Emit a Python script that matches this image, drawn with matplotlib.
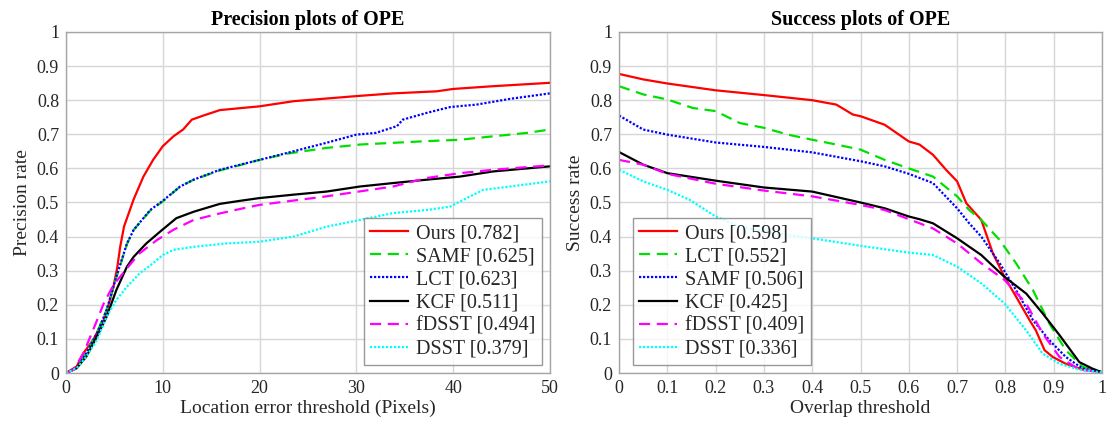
import matplotlib
matplotlib.use("Agg")
import matplotlib.pyplot as plt
import numpy as np

plt.rcParams['font.family'] = ['Liberation Serif', 'DejaVu Serif']

# ---------------- Precision plot data ----------------
prec_labels = ["Ours [0.782]", "SAMF [0.625]", "LCT [0.623]", "KCF [0.511]", "fDSST [0.494]", "DSST [0.379]"]

ours_px = [0, 1.1, 1.8, 2.8, 3.9, 4.5, 4.9, 5.3, 5.6, 6.0, 6.5, 7.0, 8.0, 9.0, 10.0, 11.1, 12.1, 13.0, 14.2, 15.9, 20, 23.5, 30, 33.8, 38.3, 40, 44.1, 50]
ours_py = [0, 0.019, 0.058, 0.097, 0.155, 0.21, 0.253, 0.31, 0.37, 0.43, 0.47, 0.51, 0.576, 0.625, 0.665, 0.694, 0.714, 0.743, 0.755, 0.771, 0.782, 0.797, 0.812, 0.82, 0.826, 0.833, 0.841, 0.851]

lct_px = [0, 1.1, 2.1, 3.2, 4.2, 5.2, 6.3, 7.0, 8.7, 10.0, 11.8, 13.2, 15.9, 20, 22.8, 26.9, 30, 32, 34.2, 34.8, 37.3, 39.7, 42.4, 45.9, 50]
lct_py = [0, 0.014, 0.058, 0.116, 0.185, 0.282, 0.38, 0.42, 0.478, 0.505, 0.547, 0.567, 0.596, 0.625, 0.645, 0.675, 0.699, 0.704, 0.724, 0.743, 0.763, 0.78, 0.787, 0.804, 0.82]

samf_px = [0, 1.1, 2.1, 3.2, 4.2, 5.2, 6.3, 7.0, 8.7, 10.0, 11.8, 13.2, 15.9, 20, 22.8, 26.9, 30.4, 33.8, 37.3, 40.7, 44.1, 47.6, 50]
samf_py = [0, 0.014, 0.06, 0.118, 0.185, 0.28, 0.378, 0.42, 0.476, 0.503, 0.547, 0.567, 0.594, 0.625, 0.643, 0.66, 0.67, 0.675, 0.68, 0.684, 0.694, 0.704, 0.714]

kcf_px = [0, 1.1, 2.1, 3.2, 4.2, 5.2, 6.3, 7.0, 8.3, 9.7, 11.4, 13.2, 15.9, 18, 20, 23.5, 26.9, 30.4, 33.8, 37.3, 40.7, 44.1, 50]
kcf_py = [0, 0.014, 0.048, 0.107, 0.165, 0.243, 0.312, 0.341, 0.38, 0.414, 0.454, 0.473, 0.496, 0.505, 0.513, 0.523, 0.532, 0.547, 0.557, 0.567, 0.576, 0.591, 0.606]

fdsst_px = [0, 0.76, 1.8, 2.8, 3.9, 4.9, 6.3, 7.6, 9.4, 11.1, 13.2, 15.9, 18.3, 20, 26.9, 33.8, 37.3, 40.7, 44.1, 50]
fdsst_py = [0, 0.009, 0.058, 0.126, 0.204, 0.258, 0.307, 0.351, 0.39, 0.42, 0.449, 0.468, 0.483, 0.493, 0.518, 0.547, 0.572, 0.586, 0.596, 0.609]

dsst_px = [0, 1.1, 2.1, 3.2, 4.2, 5.2, 6.3, 7.6, 9.0, 10.0, 11.1, 13.2, 16.6, 20, 23.5, 26.9, 30.4, 33.8, 37.3, 39.7, 40.7, 43.1, 45.9, 50]
dsst_py = [0, 0.014, 0.048, 0.097, 0.165, 0.214, 0.253, 0.292, 0.322, 0.346, 0.361, 0.37, 0.38, 0.385, 0.40, 0.429, 0.449, 0.469, 0.478, 0.488, 0.503, 0.537, 0.547, 0.562]

# ---------------- Success plot data ----------------
succ_labels = ["Ours [0.598]", "LCT [0.552]", "SAMF [0.506]", "KCF [0.425]", "fDSST [0.409]", "DSST [0.336]"]

ours_sx = [0, 0.05, 0.1, 0.2, 0.3, 0.4, 0.45, 0.484, 0.5, 0.55, 0.6, 0.622, 0.65, 0.677, 0.7, 0.719, 0.75, 0.774, 0.798, 0.822, 0.85, 0.863, 0.881, 0.898, 0.925, 0.96, 1.0]
ours_sy = [0.877, 0.861, 0.849, 0.829, 0.815, 0.80, 0.787, 0.758, 0.753, 0.728, 0.679, 0.67, 0.64, 0.596, 0.562, 0.498, 0.449, 0.351, 0.282, 0.224, 0.155, 0.125, 0.067, 0.047, 0.027, 0.01, 0.003]

lct_sx = [0, 0.05, 0.1, 0.153, 0.2, 0.25, 0.3, 0.35, 0.4, 0.45, 0.5, 0.55, 0.6, 0.65, 0.7, 0.725, 0.75, 0.788, 0.822, 0.857, 0.891, 0.925, 0.96, 1.0]
lct_sy = [0.841, 0.817, 0.802, 0.777, 0.768, 0.733, 0.719, 0.699, 0.684, 0.67, 0.655, 0.625, 0.60, 0.576, 0.518, 0.478, 0.449, 0.39, 0.322, 0.243, 0.145, 0.067, 0.018, 0.002]

samf_sx = [0, 0.05, 0.1, 0.2, 0.3, 0.4, 0.5, 0.55, 0.6, 0.65, 0.7, 0.725, 0.75, 0.788, 0.822, 0.857, 0.891, 0.925, 0.96, 1.0]
samf_sy = [0.755, 0.714, 0.699, 0.676, 0.663, 0.647, 0.621, 0.606, 0.584, 0.557, 0.483, 0.439, 0.40, 0.322, 0.243, 0.155, 0.096, 0.047, 0.013, 0.002]

kcf_sx = [0, 0.05, 0.1, 0.2, 0.3, 0.4, 0.45, 0.5, 0.55, 0.6, 0.622, 0.65, 0.7, 0.75, 0.798, 0.843, 0.877, 0.912, 0.953, 0.98, 1.0]
kcf_sy = [0.648, 0.611, 0.586, 0.564, 0.544, 0.532, 0.516, 0.50, 0.483, 0.459, 0.451, 0.439, 0.395, 0.346, 0.282, 0.233, 0.175, 0.111, 0.032, 0.013, 0.002]

fdsst_sx = [0, 0.05, 0.1, 0.2, 0.3, 0.4, 0.5, 0.55, 0.6, 0.65, 0.7, 0.75, 0.798, 0.843, 0.877, 0.912, 0.953, 1.0]
fdsst_sy = [0.625, 0.611, 0.584, 0.555, 0.535, 0.518, 0.493, 0.478, 0.451, 0.424, 0.38, 0.322, 0.273, 0.204, 0.116, 0.047, 0.01, 0.002]

dsst_sx = [0, 0.05, 0.1, 0.146, 0.2, 0.25, 0.3, 0.4, 0.5, 0.6, 0.65, 0.7, 0.75, 0.798, 0.843, 0.877, 0.912, 0.953, 1.0]
dsst_sy = [0.596, 0.562, 0.537, 0.508, 0.459, 0.429, 0.415, 0.395, 0.373, 0.353, 0.346, 0.312, 0.263, 0.204, 0.125, 0.057, 0.027, 0.01, 0.002]

# ---------------- styles ----------------
RED, GREEN, BLUE, BLACK, MAG, CYAN = '#ff0000', '#00e000', '#0000ff', '#000000', '#ff00ff', '#00ffff'
LW = 1.6
SOLID = '-'
DASH = (0, (5, 3))
DOT = (0, (1, 0.8))

fig = plt.figure(figsize=(11.09, 4.26), dpi=100)
ax1 = fig.add_axes([0.0595, 0.1244, 0.4364, 0.8005])
ax2 = fig.add_axes([0.5582, 0.1244, 0.4355, 0.8005])

prec_series = [
    (ours_px, ours_py, RED, SOLID),
    (samf_px, samf_py, GREEN, DASH),
    (lct_px, lct_py, BLUE, DOT),
    (kcf_px, kcf_py, BLACK, SOLID),
    (fdsst_px, fdsst_py, MAG, DASH),
    (dsst_px, dsst_py, CYAN, DOT),
]
succ_series = [
    (ours_sx, ours_sy, RED, SOLID),
    (lct_sx, lct_sy, GREEN, DASH),
    (samf_sx, samf_sy, BLUE, DOT),
    (kcf_sx, kcf_sy, BLACK, SOLID),
    (fdsst_sx, fdsst_sy, MAG, DASH),
    (dsst_sx, dsst_sy, CYAN, DOT),
]

TXT = '#262626'
for ax, series, labels in [(ax1, prec_series, prec_labels), (ax2, succ_series, succ_labels)]:
    for (x, y, c, ls), lab in zip(series, labels):
        ax.plot(x, y, color=c, linestyle=ls, linewidth=LW, label=lab)
    ax.set_ylim(0, 1)
    ax.set_yticks(np.arange(0, 1.01, 0.1))
    ax.set_yticklabels(['0'] + ['%.1f' % v for v in np.arange(0.1, 0.95, 0.1)] + ['1'])
    ax.grid(True, color='#d6d6d6', linewidth=1.0)
    ax.set_axisbelow(True)
    for s in ax.spines.values():
        s.set_color('#a6a6a6')
        s.set_linewidth(1.0)
    ax.tick_params(length=0, labelsize=13, colors=TXT, pad=5)

ax1.set_xlim(0, 50)
ax1.set_xticks([0, 10, 20, 30, 40, 50])
ax2.set_xlim(0, 1)
ax2.set_xticks(np.arange(0, 1.01, 0.1))
ax2.set_xticklabels(['0'] + ['%.1f' % v for v in np.arange(0.1, 0.95, 0.1)] + ['1'])

ax1.set_title('Precision plots of OPE', fontsize=14.5, fontweight='bold', pad=5)
ax2.set_title('Success plots of OPE', fontsize=14.5, fontweight='bold', pad=5)
ax1.set_xlabel('Location error threshold (Pixels)', fontsize=14, color=TXT, labelpad=2)
ax2.set_xlabel('Overlap threshold', fontsize=14, color=TXT, labelpad=2)
ax1.set_ylabel('Precision rate', fontsize=14, color=TXT, labelpad=4)
ax2.set_ylabel('Success rate', fontsize=14, color=TXT, labelpad=4)

leg_kw = dict(fontsize=14.5, frameon=True, fancybox=False, handlelength=1.9,
              handletextpad=0.4, labelspacing=0.2, borderpad=0.3, borderaxespad=0.4)
l1 = ax1.legend(loc='lower right', **leg_kw)
l2 = ax2.legend(loc='lower left', bbox_to_anchor=(0.012, 0.0), **leg_kw)
for l in (l1, l2):
    l.get_frame().set_edgecolor('#808080')
    l.get_frame().set_linewidth(1.0)
    for t in l.get_texts():
        t.set_color(TXT)

fig.savefig('out.png', dpi=100)
